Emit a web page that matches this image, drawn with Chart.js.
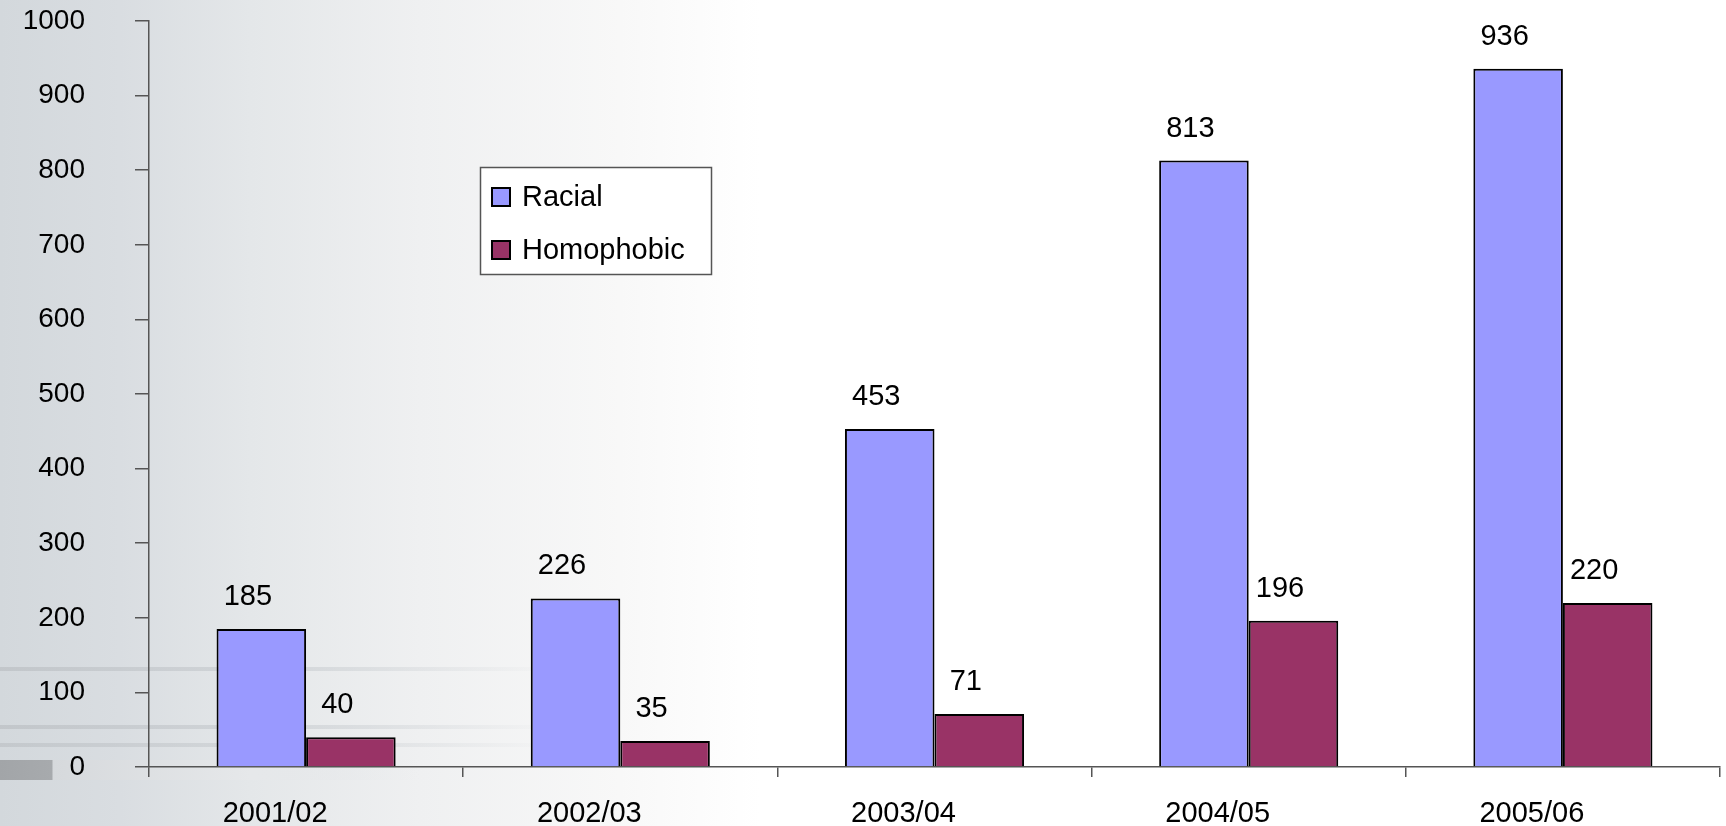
<!DOCTYPE html>
<html>
<head>
<meta charset="utf-8">
<script src="https://cdn.jsdelivr.net/npm/chart.js@4.4.1/dist/chart.umd.min.js"></script>
<style>
  html, body { margin: 0; padding: 0; }
  body {
    width: 1726px;
    height: 826px;
    overflow: hidden;
    background:
      linear-gradient(to right, #a2a5a8 0px, #a7aaad 52px, #d6d9dc 53px, #e6e8ea 250px, rgba(255,255,255,0) 420px) 0 760px / 100% 20px no-repeat,
      linear-gradient(to right, rgba(190,194,198,0.8) 0px, rgba(200,204,208,0.6) 300px, rgba(255,255,255,0) 560px) 0 667px / 100% 4px no-repeat,
      linear-gradient(to right, rgba(190,194,198,0.8) 0px, rgba(200,204,208,0.6) 300px, rgba(255,255,255,0) 560px) 0 725px / 100% 4px no-repeat,
      linear-gradient(to right, rgba(190,194,198,0.7) 0px, rgba(200,204,208,0.5) 300px, rgba(255,255,255,0) 560px) 0 743px / 100% 4px no-repeat,
      linear-gradient(to right, #d3d8dc 0px, #d9dde1 120px, #e4e7e9 250px, #eff0f1 420px, #f8f8f8 620px, #ffffff 760px);
  }
  canvas { display: block; }
</style>
</head>
<body>
<canvas id="grafico" width="1726" height="826"></canvas>
<script>
// dados do gráfico
const categorias = ['2001/02', '2002/03', '2003/04', '2004/05', '2005/06'];
const racial = [185, 226, 453, 813, 936];
const homofobico = [40, 35, 71, 196, 220];
const nomesSeries = ['Racial', 'Homophobic'];

const familia = '"Liberation Sans", Arial, sans-serif';
const fonteEixoY = { family: familia, size: 28 };
const fonte = { family: familia, size: 29 };

// rótulos de valor em cima das barras
const rotulosValor = {
    id: 'rotulosValor',
    afterDatasetsDraw(chart) {
        const ctx = chart.ctx;
        ctx.save();
        ctx.font = '29px ' + familia;
        ctx.fillStyle = '#000';
        ctx.textAlign = 'center';
        ctx.textBaseline = 'alphabetic';
        chart.data.datasets.forEach(function(ds, i) {
            chart.getDatasetMeta(i).data.forEach(function(bar, j) {
                ctx.fillText(String(ds.data[j]), bar.x - 13.5, bar.y - 24);
            });
        });
        ctx.restore();
    }
};

// legenda com caixa dentro da área do gráfico
const legendaCaixa = {
    id: 'legendaCaixa',
    afterDraw(chart) {
        const ctx = chart.ctx;
        const x = 480, y = 167, w = 231, h = 107;
        ctx.save();
        ctx.fillStyle = '#fff';
        ctx.fillRect(x, y, w, h);
        ctx.strokeStyle = '#555';
        ctx.lineWidth = 1.5;
        ctx.strokeRect(x + 0.5, y + 0.5, w, h);
        ctx.font = '29px ' + familia;
        ctx.textBaseline = 'middle';
        ctx.textAlign = 'left';
        chart.data.datasets.forEach(function(ds, i) {
            const cy = y + 30 + i * 53;
            ctx.fillStyle = ds.backgroundColor;
            ctx.fillRect(x + 12, cy - 9, 18, 18);
            ctx.strokeStyle = '#000';
            ctx.lineWidth = 2;
            ctx.strokeRect(x + 12, cy - 9, 18, 18);
            ctx.fillStyle = '#000';
            ctx.fillText(ds.label, x + 42, cy + 1);
        });
        ctx.restore();
    }
};

new Chart(document.getElementById('grafico').getContext('2d'), {
    type: 'bar',
    data: {
        labels: categorias,
        datasets: [
            { label: nomesSeries[0], data: racial, backgroundColor: '#9999ff', borderColor: '#000', borderWidth: 2 },
            { label: nomesSeries[1], data: homofobico, backgroundColor: '#993366', borderColor: '#000', borderWidth: 2 }
        ]
    },
    options: {
        responsive: false,
        animation: false,
        datasets: { bar: { categoryPercentage: 0.57, barPercentage: 1.0 } },
        layout: { padding: { top: 21, right: 6, left: 0, bottom: 0 } },
        plugins: {
            legend: { display: false },
            tooltip: { enabled: false }
        },
        scales: {
            x: {
                offset: true,
                grid: { offset: true, drawOnChartArea: false, drawTicks: true, tickLength: 10, color: '#555', lineWidth: 1.5 },
                border: { color: '#555', width: 1.5 },
                ticks: { color: '#000', font: fonte, padding: 20, labelOffset: -31, maxRotation: 0 },
                afterFit(scale) { scale.height = 59; }
            },
            y: {
                min: 0,
                max: 1000,
                grid: { drawOnChartArea: false, drawTicks: true, tickLength: 14, color: '#555', lineWidth: 1.5 },
                border: { color: '#555', width: 1.5 },
                ticks: {
                    color: '#000', font: fonteEixoY, stepSize: 100, padding: 50,
                    callback: function(v) { return String(v); }
                },
                afterFit(scale) {
                    scale.width = 149;
                    scale.paddingTop = 0;
                    scale.paddingBottom = 0;
                }
            }
        }
    },
    plugins: [rotulosValor, legendaCaixa]
});
</script>
</body>
</html>
